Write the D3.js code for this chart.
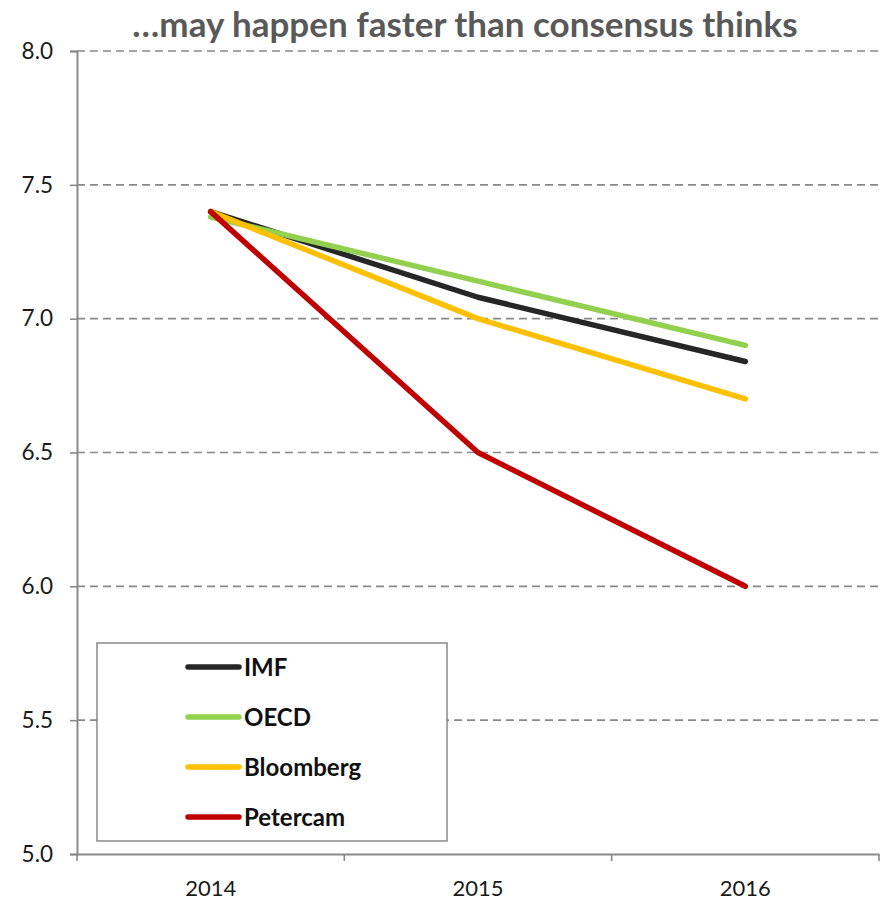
<!DOCTYPE html>
<html>
<head>
<meta charset="utf-8">
<script src="https://cdn.jsdelivr.net/npm/d3@7"></script>
<style>
  html, body { margin: 0; padding: 0; background: #fff; }
  svg { display: block; }
</style>
</head>
<body>
<svg id="chart" width="881" height="900"></svg>
<script>
// Forecast years and growth forecasts per source
const years = ["2014", "2015", "2016"];
const imf = [7.40, 7.08, 6.84];
const oecd = [7.38, 7.14, 6.90];
const bloomberg = [7.40, 7.00, 6.70];
const petercam = [7.40, 6.50, 6.00];
const seriesNames = ["IMF", "OECD", "Bloomberg", "Petercam"];
const seriesColors = ["#262626", "#92D050", "#FFC000", "#C00000"];
const yTicks = [5.0, 5.5, 6.0, 6.5, 7.0, 7.5, 8.0];
const titleText = "\u2026may happen faster than consensus thinks";

const series = [imf, oecd, bloomberg, petercam].map((vals, i) => ({
  name: seriesNames[i],
  color: seriesColors[i],
  points: vals.map((v, j) => ({ year: years[j], value: v }))
}));

const svg = d3.select("#chart");
const plot = { left: 77, right: 879, top: 51, bottom: 854 };

const x = d3.scaleBand().domain(years).range([plot.left, plot.right]).padding(0);
const y = d3.scaleLinear().domain([5, 8]).range([plot.bottom, plot.top]);

const font = "Lato, 'Open Sans', sans-serif";
const axisGrey = "#898989";

// Title
svg.append("text")
  .attr("x", 465).attr("y", 37)
  .attr("text-anchor", "middle")
  .attr("font-family", font)
  .attr("font-weight", 700)
  .attr("font-size", 35)
  .attr("fill", "#595959")
  .text(titleText);

// Dashed horizontal gridlines
svg.append("g")
  .selectAll("line")
  .data(yTicks.filter(d => d > 5))
  .join("line")
  .attr("x1", plot.left).attr("x2", plot.right)
  .attr("y1", d => y(d)).attr("y2", d => y(d))
  .attr("stroke", axisGrey)
  .attr("stroke-width", 1.6)
  .attr("stroke-dasharray", "8,5");

// Y axis
const yAxis = svg.append("g")
  .attr("transform", `translate(${plot.left},0)`)
  .call(d3.axisLeft(y).tickValues(yTicks).tickFormat(d3.format(".1f")).tickSize(7).tickPadding(17));
yAxis.select(".domain").attr("stroke", axisGrey).attr("stroke-width", 2);
yAxis.selectAll(".tick line").attr("stroke", axisGrey).attr("stroke-width", 1.6);
yAxis.selectAll(".tick text")
  .attr("font-family", font).attr("font-size", 22.5).attr("fill", "#1a1a1a");

// X axis: labels centred on each band, tick marks at band edges
const xAxis = svg.append("g")
  .attr("transform", `translate(0,${plot.bottom})`)
  .call(d3.axisBottom(x).tickSize(0).tickPadding(26));
xAxis.select(".domain").attr("stroke", axisGrey).attr("stroke-width", 2);
xAxis.selectAll(".tick text")
  .attr("font-family", font).attr("font-size", 22).attr("fill", "#1a1a1a");

const edges = years.map(d => x(d)).concat([x(years[years.length - 1]) + x.bandwidth()]);
svg.append("g")
  .selectAll("line")
  .data(edges)
  .join("line")
  .attr("x1", d => d).attr("x2", d => d)
  .attr("y1", plot.bottom).attr("y2", plot.bottom + 7)
  .attr("stroke", axisGrey)
  .attr("stroke-width", 1.6);

// Series lines
const line = d3.line()
  .x(d => x(d.year) + x.bandwidth() / 2)
  .y(d => y(d.value));

svg.append("g")
  .selectAll("path")
  .data(series)
  .join("path")
  .attr("d", d => line(d.points))
  .attr("fill", "none")
  .attr("stroke", d => d.color)
  .attr("stroke-width", 5.5)
  .attr("stroke-linecap", "round")
  .attr("stroke-linejoin", "round");

// Legend
const legend = svg.append("g");
legend.append("rect")
  .attr("x", 97).attr("y", 643)
  .attr("width", 350).attr("height", 198)
  .attr("fill", "#fff")
  .attr("stroke", axisGrey)
  .attr("stroke-width", 1.5);

const rows = legend.selectAll("g.row")
  .data(series)
  .join("g")
  .attr("class", "row")
  .attr("transform", (d, i) => `translate(0,${667 + i * 50})`);
rows.append("line")
  .attr("x1", 188).attr("x2", 239)
  .attr("stroke", d => d.color)
  .attr("stroke-width", 5.5)
  .attr("stroke-linecap", "round");
rows.append("text")
  .attr("x", 244).attr("y", 0)
  .attr("dy", "0.36em")
  .attr("font-family", font)
  .attr("font-weight", 700)
  .attr("font-size", 24)
  .attr("fill", "#111")
  .text(d => d.name);
</script>
</body>
</html>
